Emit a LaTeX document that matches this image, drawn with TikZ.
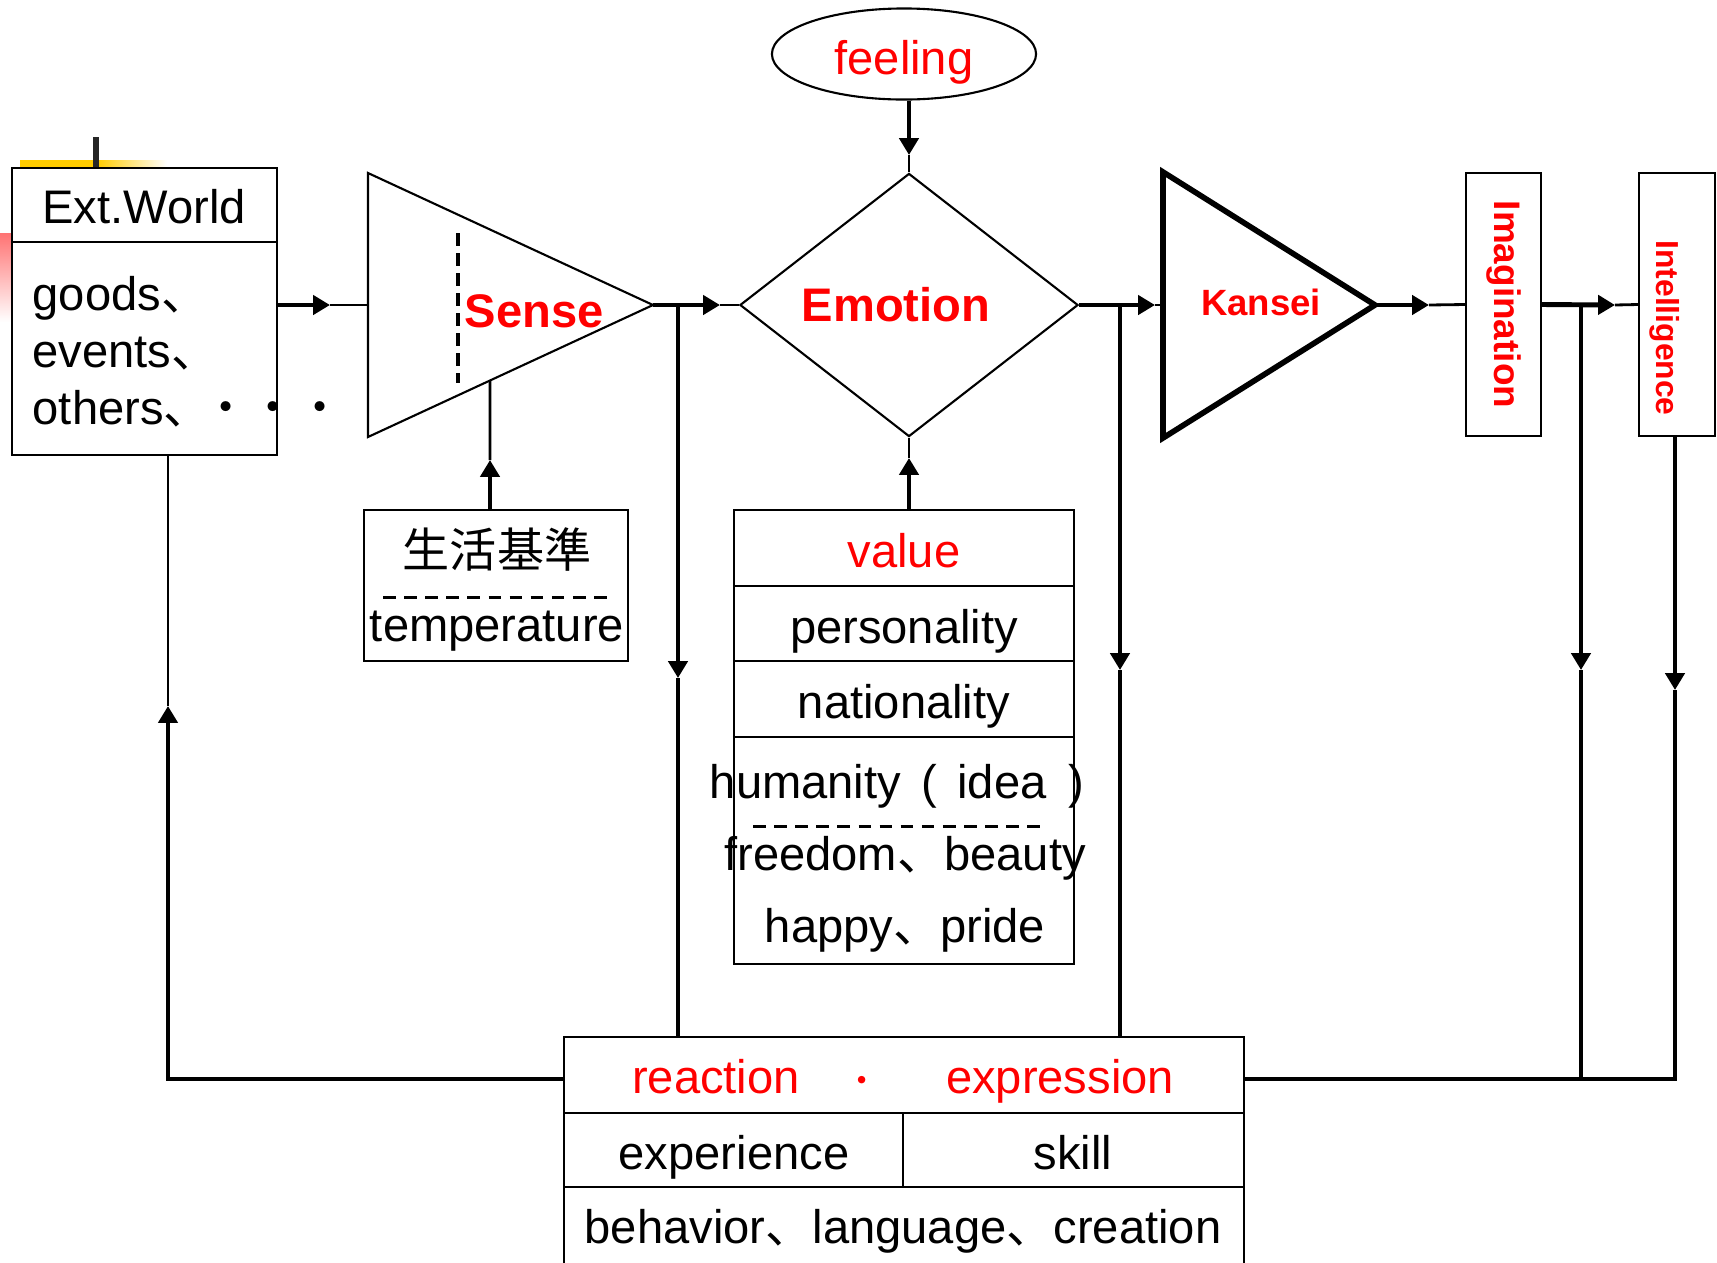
\documentclass[tikz,border=0pt]{standalone}
\usepackage{fontspec}
\usepackage{graphicx}
\setmainfont{Liberation Sans}
\newfontfamily\cjk{Noto Sans CJK JP}
\usepackage{tikz}
\usetikzlibrary{positioning, shapes.geometric, arrows.meta, calc}
\definecolor{labelred}{RGB}{255, 0, 0}
\definecolor{tmplyellow}{RGB}{255, 204, 0}
\newcommand{\dun}{{\cjk 、}}

\begin{document}
\begin{tikzpicture}[x=0.01cm, y=-0.01cm,
    every node/.style={font=\fontsize{13.4}{16}\selectfont},
    box/.style={draw, rectangle, line width=0.6pt, inner sep=0pt},
    txt/.style={inner sep=0pt, text height=0.72em, text depth=0.21em, yshift=-2.4pt},
    redbold/.style={txt, text=labelred, font=\fontsize{13.4}{16}\selectfont\bfseries},
    conn/.style={line width=1.4pt, -{Triangle[length=4.8pt, width=5.4pt]}},
    stub/.style={line width=0.8pt},
    fb/.style={line width=1.1pt},
    rdash/.style={line width=0.85pt, dash pattern=on 3.6pt off 2.4pt}]
    \path[use as bounding box] (0,0) rectangle (1717,1263);
    \clip (0,0) rectangle (1717,1263);

    % slide template marks
    \fill[tmplyellow] (20,160) rectangle (97,168);
    \shade[left color=tmplyellow, right color=white] (97,160) rectangle (167,168);
    \fill[black!85] (93,137) rectangle (99,168);
    \shade[top color=red!55, bottom color=white] (0,233) rectangle (12,322);

    % external world
    \node [box, fill=white, minimum width=2.65cm, minimum height=2.87cm] (extw) at (144.5,311.5) {};
    \draw [line width=0.6pt] ($(extw.north west)+(0,75)$) -- ($(extw.north east)+(0,75)$);
    \node [txt] (extwtitle) at (144,206) {Ext.World};
    \node [txt, anchor=west] (goods) at (32,293) {goods\dun};
    \node [txt, anchor=west] (events) at (32,350) {events\dun};
    \node [txt, anchor=west] (others) at (32,407) {others\dun\hspace{-2.4pt}{\cjk ・・・}};

    % sense
    \coordinate (sensetop) at (368,173);
    \coordinate (sensebot) at (368,437);
    \coordinate (senseout) at (653,305);
    \coordinate (sensein) at (368,305);
    \draw [line width=0.6pt] (sensetop) -- (senseout) -- (sensebot) -- cycle;
    \draw [line width=1pt, dash pattern=on 3.7pt off 2pt] (458,233) -- (458,383);
    \node [redbold] (senselbl) at (534,310) {Sense};

    % emotion and feeling
    \node [diamond, draw, line width=0.6pt, minimum width=3.38cm, minimum height=2.63cm, inner sep=0pt] (emotion) at (909,305) {};
    \node [redbold] (emotionlbl) at (896,304) {Emotion};
    \node [ellipse, draw, line width=0.6pt, minimum width=2.64cm, minimum height=0.91cm, inner sep=0pt] (feeling) at (904,54) {};
    \node [txt, text=labelred] (feelinglbl) at (904,57) {feeling};

    % kansei
    \coordinate (kantop) at (1163,172);
    \coordinate (kanbot) at (1163,438);
    \coordinate (kanout) at (1375,305);
    \coordinate (kanin) at (1163,305);
    \draw [line width=1.6pt] (kantop) -- (kanout) -- (kanbot) -- cycle;
    \node [redbold, font=\fontsize{10.4}{12}\selectfont\bfseries] (kanlbl) at (1261,298) {Kansei};

    % imagination, intelligence
    \node [box, minimum width=0.75cm, minimum height=2.63cm, text=labelred, font=\fontsize{10.5}{12}\selectfont\bfseries] (imag) at (1503.5,304.5) {\rotatebox{-90}{Imagination}};
    \node [box, minimum width=0.76cm, minimum height=2.63cm] (intel) at (1677,304.5) {};
    \node [text=labelred, inner sep=0pt, font=\fontsize{9.05}{11}\selectfont\bfseries] (intellbl) at (1665,328) {\rotatebox{-90}{Intelligence}};

    % life standard
    \node [box, minimum width=2.64cm, minimum height=1.51cm] (life) at (496,585.5) {};
    \node [txt, font=\fontsize{13.4}{16}\selectfont\cjk] (lifejp) at (497,550) {生活基準};
    \draw [rdash] (383,597) -- (608,597);
    \node [txt] (lifeen) at (497,624) {temperature};

    % value
    \node [box, minimum width=3.4cm, minimum height=4.54cm] (value) at (904,737) {};
    \foreach \yy in {586,661,737}
        \draw [line width=0.6pt] (value.west |- 0,\yy) -- (value.east |- 0,\yy);
    \node [txt, text=labelred] (valuelbl) at (904,550) {value};
    \node [txt] (person) at (904,626) {personality};
    \node [txt] (nation) at (904,701) {nationality};
    \node [txt] (human) at (897,781) {humanity\hspace{5.7pt}(\hspace{5.9pt}idea\hspace{6.2pt})};
    \draw [rdash] (753,826) -- (1048,826);
    \node [txt] (freedom) at (905,853) {freedom\dun beauty};
    \node [txt] (happy) at (905,925) {happy\dun pride};

    % reaction / expression
    \node [box, minimum width=6.8cm, minimum height=2.6cm] (react) at (904,1167) {};
    \draw [line width=0.6pt] (564,1113) -- (1244,1113);
    \draw [line width=0.6pt] (564,1187) -- (1244,1187);
    \draw [line width=0.6pt] (903,1113) -- (903,1187);
    \node [txt, text=labelred] (reaction) at (716,1076) {reaction};
    \node [txt, text=labelred, font=\fontsize{10}{12}\selectfont\cjk] (rdot) at (862,1076) {・};
    \node [txt, text=labelred] (express) at (1060,1076) {expression};
    \node [txt] (exper) at (734,1152) {experience};
    \node [txt] (skill) at (1073,1152) {skill};
    \node [txt] (behav) at (903,1226) {behavior\dun language\dun creation};

    % main flow
    \coordinate (tipA) at (330,305);
    \draw [conn] (extw.east |- sensein) -- (tipA);
    \draw [stub] (tipA) -- (sensein);
    \coordinate (tipB) at (720,305);
    \draw [conn] (senseout) -- (tipB);
    \draw [stub] (tipB) -- (emotion.west);
    \coordinate (tipF) at (1155,305);
    \draw [conn] (emotion.east) -- (tipF);
    \draw [stub] (tipF) -- (kanin);
    \coordinate (tipG) at (1429,305);
    \draw [conn] (kanout) -- (tipG);
    \draw [stub] (tipG) -- (imag.west);
    \coordinate (tipH) at (1615,305);
    \draw [conn] (imag.east) -- (tipH);
    \draw [stub] (tipH) -- (intel.west);

    % inputs from above and below
    \coordinate (tipC) at (909,155);
    \draw [conn] (feeling.south -| tipC) -- (tipC);
    \draw [stub] (tipC) -- (emotion.north);
    \coordinate (tipD) at (909,458);
    \draw [conn] (value.north -| tipD) -- (tipD);
    \draw [stub] (tipD) -- (emotion.south);
    \coordinate (tipE) at (490,460);
    \coordinate (senseb) at ($(sensebot)!0.428!(senseout)$);
    \draw [conn] (life.north -| tipE) -- (tipE);
    \draw [stub] (tipE) -- (senseb);

    % down to reaction
    \coordinate (jB) at (678,305);
    \coordinate (tipBd) at (678,678);
    \draw [conn] (jB) -- (tipBd);
    \draw [fb] (tipBd) -- (jB |- react.north);
    \coordinate (jF) at (1120,305);
    \coordinate (tipFd) at (1120,670);
    \draw [conn] (jF) -- (tipFd);
    \draw [fb] (tipFd) -- (jF |- react.north);
    \coordinate (fbr) at (1675,1079);
    \coordinate (jH) at (1581,305);
    \coordinate (tipHd) at (1581,670);
    \draw [conn] (jH) -- (tipHd);
    \draw [fb] (tipHd) -- (tipHd |- fbr);
    \coordinate (tipI) at (1675,690);
    \draw [conn] (intel.south -| tipI) -- (tipI);
    \draw [fb] (tipI) -- (fbr) -- (fbr -| react.east);

    % back to the external world
    \coordinate (fbl) at (168,1079);
    \coordinate (tipJ) at (168,706);
    \draw [conn] (fbl -| react.west) -- (fbl) -- (tipJ);
    \draw [stub] (tipJ) -- (tipJ |- extw.south);
\end{tikzpicture}
\end{document}
